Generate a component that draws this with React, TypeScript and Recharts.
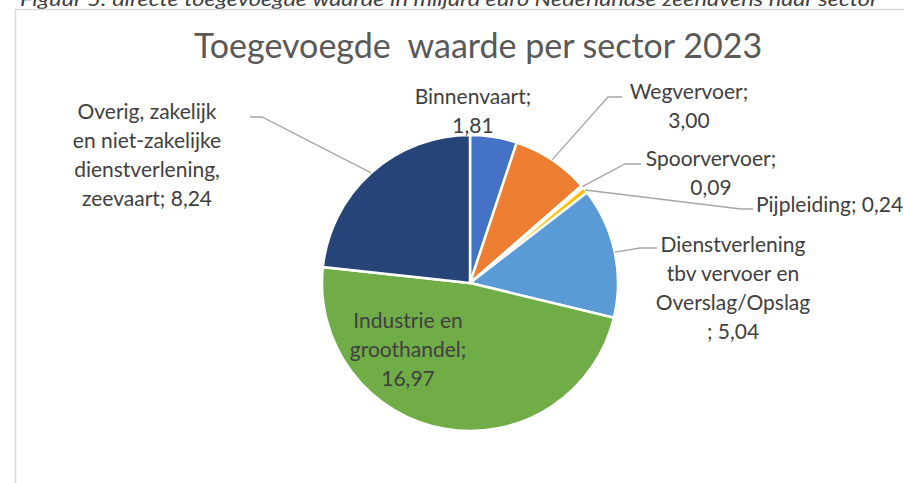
import React from "react";
import { PieChart, Pie, Cell } from "recharts";

const categories = [
  "Binnenvaart",
  "Wegvervoer",
  "Spoorvervoer",
  "Pijpleiding",
  "Dienstverlening tbv vervoer en Overslag/Opslag",
  "Industrie en groothandel",
  "Overig, zakelijk en niet-zakelijke dienstverlening, zeevaart",
];
const values = [1.81, 3.0, 0.09, 0.24, 5.04, 16.97, 8.24];
const colors = ["#4472C4", "#ED7D31", "#A5A5A5", "#FFC000", "#5B9BD5", "#70AD47", "#264478"];
const labelLines = [
  ["Binnenvaart;", "{v}"],
  ["Wegvervoer;", "{v}"],
  ["Spoorvervoer;", "{v}"],
  ["Pijpleiding; {v}"],
  ["Dienstverlening", "tbv vervoer en", "Overslag/Opslag", "; {v}"],
  ["Industrie en", "groothandel;", "{v}"],
  ["Overig, zakelijk", "en niet-zakelijke", "dienstverlening,", "zeevaart; {v}"],
];
const title = "Toegevoegde  waarde per sector 2023";
const caption = "Figuur 5: directe toegevoegde waarde in miljard euro Nederlandse zeehavens naar sector";

// label placement relative to pie centre (layout, not data)
const labelLayout: { dx: number; dy: number; anchor: string; leader: number[][] | null }[] = [
  { dx: 3, dy: -188, anchor: "middle", leader: null },
  { dx: 219, dy: -193, anchor: "middle", leader: [[138, -186], [152, -186]] },
  { dx: 241, dy: -126, anchor: "middle", leader: [[155, -119], [171, -119]] },
  { dx: 286, dy: -80, anchor: "start", leader: [[271, -74], [283, -74]] },
  { dx: 263, dy: -40, anchor: "middle", leader: [[170, -35], [187, -35]] },
  { dx: -62, dy: 36, anchor: "middle", leader: null },
  { dx: -323, dy: -173, anchor: "middle", leader: [[-208, -166], [-220, -166]] },
];

const data = categories.map((name, i) => ({ name, value: values[i] }));
const fmt = (v: number) => v.toFixed(2).replace(".", ",");
const FONT = "Lato, 'Open Sans', sans-serif";
const RAD = Math.PI / 180;

const renderLabel = (props: any) => {
  const { cx, cy, midAngle, outerRadius, index, value } = props;
  const lay = labelLayout[index];
  const sx = cx + outerRadius * Math.cos(-midAngle * RAD);
  const sy = cy + outerRadius * Math.sin(-midAngle * RAD);
  const lines = labelLines[index].map((l) => l.replace("{v}", fmt(value)));
  return (
    <g key={`lbl-${index}`}>
      {lay.leader && (
        <polyline
          points={[[sx - cx, sy - cy], ...lay.leader].map((p) => `${cx + p[0]},${cy + p[1]}`).join(" ")}
          fill="none"
          stroke="#A6A6A6"
          strokeWidth={1.3}
        />
      )}
      <text
        x={cx + lay.dx}
        y={cy + lay.dy}
        textAnchor={lay.anchor as any}
        fill="#404040"
        fontSize={21}
        fontFamily={FONT}
      >
        {lines.map((l, j) => (
          <tspan key={j} x={cx + lay.dx} y={cy + lay.dy + j * 29} dominantBaseline="central">
            {l}
          </tspan>
        ))}
      </text>
    </g>
  );
};

export default function App() {
  return (
    <div style={{ position: "absolute", left: 0, top: 0, width: 904, height: 483, background: "#fff" }}>
      <svg width={904} height={483} style={{ position: "absolute", left: 0, top: 0 }}>
        <text
          x={20}
          y={6}
          fontSize={20}
          fontStyle="italic"
          fontFamily={FONT}
          fill="#404040"
          textLength={858}
          lengthAdjust="spacingAndGlyphs"
        >
          {caption}
        </text>
        <path d="M15.5,483 L15.5,9.5 L904,9.5" fill="none" stroke="#D9D9D9" strokeWidth={1.5} />
        <text
          x={478}
          y={58}
          textAnchor="middle"
          fontSize={34}
          fontFamily={FONT}
          fill="#595959"
          style={{ whiteSpace: "pre" }}
        >
          {title}
        </text>
      </svg>
      <div style={{ position: "absolute", left: 0, top: 0 }}>
        <PieChart width={904} height={483} margin={{ top: 0, right: 0, bottom: 0, left: 0 }}>
          <Pie
            data={data}
            dataKey="value"
            nameKey="name"
            cx={470}
            cy={283}
            outerRadius={148}
            startAngle={90}
            endAngle={-270}
            stroke="#FFFFFF"
            strokeWidth={2.5}
            label={renderLabel}
            labelLine={false}
            isAnimationActive={false}
          >
            {data.map((d, i) => (
              <Cell key={d.name} fill={colors[i]} />
            ))}
          </Pie>
        </PieChart>
      </div>
    </div>
  );
}
